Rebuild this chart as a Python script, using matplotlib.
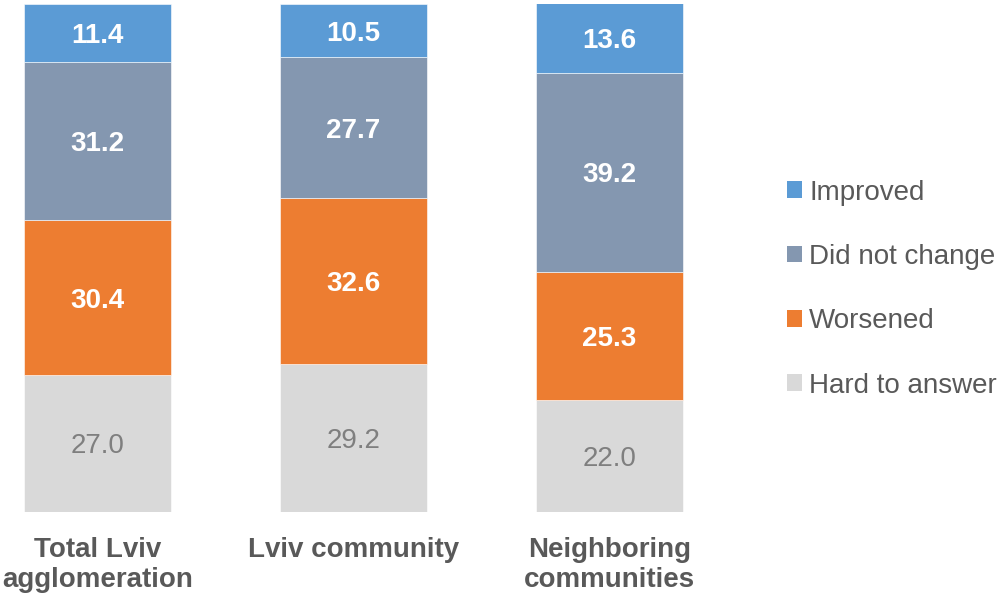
import numpy as np
import matplotlib
matplotlib.use("Agg")
import matplotlib.pyplot as plt
from matplotlib.patches import Patch

plt.rcParams['font.family'] = ['Liberation Sans', 'DejaVu Sans']

# Survey shares, %
categories = ["Total Lviv\nagglomeration", "Lviv community", "Neighboring\ncommunities"]
hard_to_answer = [27.0, 29.2, 22.0]
worsened = [30.4, 32.6, 25.3]
did_not_change = [31.2, 27.7, 39.2]
improved = [11.4, 10.5, 13.6]

series = [
    ("Hard to answer", hard_to_answer, "#D9D9D9", "#7F7F7F", "normal"),
    ("Worsened", worsened, "#ED7D31", "white", "bold"),
    ("Did not change", did_not_change, "#8497B0", "white", "bold"),
    ("Improved", improved, "#5B9BD5", "white", "bold"),
]

fig = plt.figure(figsize=(10.06, 5.95), dpi=100)
ax = fig.add_axes([0.0, 0.1395, 700 / 1006, 0.8538])

x = np.arange(len(categories))
bottom = np.zeros(len(categories))
for name, vals, color, tcolor, weight in series:
    vals = np.array(vals)
    ax.bar(x, vals, width=0.575, bottom=bottom, color=color,
           edgecolor="white", linewidth=0.4)
    for xi, b, v in zip(x, bottom, vals):
        ax.text(xi, b + v / 2, f"{v:.1f}", ha="center", va="center_baseline",
                fontsize=20, color=tcolor, fontweight=weight)
    bottom += vals

ax.set_xlim(-98 / 256, 2 + (700 - 609) / 256)
ax.set_ylim(0, 100)
ax.axis("off")

# category labels under the bars
for xi, lab in zip(x, categories):
    ax.text(xi, -5.0, lab, ha="center", va="top", fontsize=20,
            fontweight="bold", color="#595959", linespacing=1.2)

handles = [Patch(facecolor=c, label=n) for n, _, c, _, _ in reversed(series)]
fig.legend(handles=handles, loc="center left", bbox_to_anchor=(762 / 1006, 1 - 289 / 595),
           frameon=False, fontsize=20, handlelength=0.55, handleheight=0.55,
           handletextpad=0.25, labelspacing=1.38, labelcolor="#595959")

fig.savefig("out.png", dpi=100)
